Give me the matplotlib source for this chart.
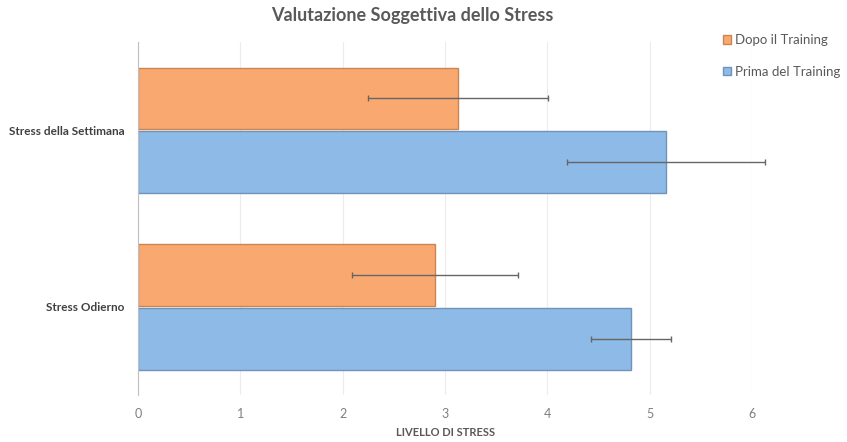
import numpy as np
import matplotlib.pyplot as plt

categories = ['Stress Odierno', 'Stress della Settimana']
prima = [4.82, 5.16]
prima_err = [0.39, 0.97]
dopo = [2.90, 3.13]
dopo_err = [0.81, 0.88]

grey = '#595959'
plt.rcParams['font.family'] = ['Lato', 'DejaVu Sans']

fig = plt.figure(figsize=(8.47, 4.42), dpi=100)
ax = fig.add_axes([0.163, 0.106, 0.725, 0.799])

y = np.arange(len(categories))
h = 0.35
off = 0.18

ax.barh(y - off, prima, height=h, color='#8DBAE6', edgecolor='#6F93BB',
        linewidth=1.0, label='Prima del Training', zorder=2)
ax.barh(y + off, dopo, height=h, color='#F9A870', edgecolor='#C98552',
        linewidth=1.0, label='Dopo il Training', zorder=2)
for vals, errs, pos in [(prima, prima_err, y - off), (dopo, dopo_err, y + off)]:
    eb = ax.errorbar(vals, pos, xerr=errs, fmt='none', ecolor='#666666',
                     elinewidth=1.0, capsize=2, capthick=1.0, zorder=3)
    for art in eb.lines[1] + eb.lines[2]:
        art.set_clip_on(False)

ax.set_xlim(0, 6)
ax.set_ylim(-0.5, 1.5)
ax.set_xticks(range(7))
ax.set_yticks(y)
ax.set_yticklabels(categories, fontsize=8.5, fontweight='bold', color='#404040')
ax.tick_params(axis='x', labelsize=9, colors='#7f7f7f', length=0, pad=9)
ax.tick_params(axis='y', length=0, pad=10)
ax.grid(axis='x', color='#ececec', linewidth=0.8, zorder=0)
for s in ['top', 'right', 'bottom']:
    ax.spines[s].set_visible(False)
ax.spines['left'].set_color('#c0c0c0')

ax.set_xlabel('LIVELLO DI STRESS', fontsize=8, fontweight='bold', color=grey, labelpad=5)
fig.suptitle('Valutazione Soggettiva dello Stress', fontsize=13, fontweight='bold',
             color=grey, x=0.487, y=0.985)

handles, labels = ax.get_legend_handles_labels()
leg = fig.legend(handles[::-1], labels[::-1], loc='upper left', bbox_to_anchor=(0.84, 0.95),
                 frameon=False, fontsize=9.5, handlelength=0.6, handleheight=0.6,
                 labelspacing=1.5, handletextpad=0.3)
for t in leg.get_texts():
    t.set_color(grey)

fig.savefig('out.png', dpi=100)
